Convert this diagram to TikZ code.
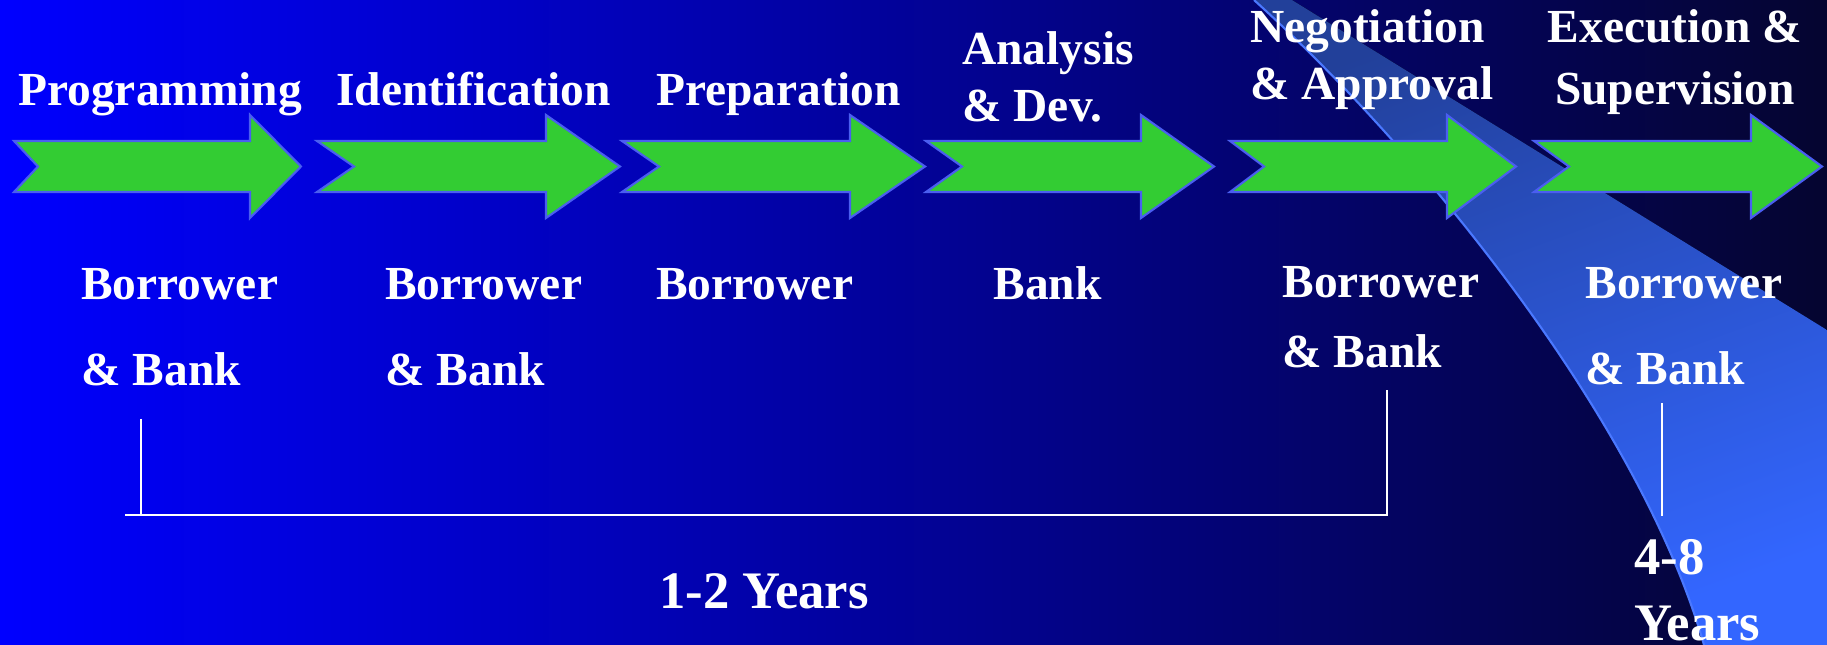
\documentclass[tikz,border=0pt]{standalone}
\usepackage{fontspec}
\setmainfont{Liberation Serif}

\definecolor{bgleft}{HTML}{0000FF}
\definecolor{bgmid}{HTML}{0000CC}
\definecolor{bgright}{HTML}{050530}
\definecolor{swooshtop}{HTML}{22409A}
\definecolor{swooshbot}{HTML}{3366FF}
\definecolor{swooshedge}{HTML}{4A78FF}
\definecolor{arrowgreen}{HTML}{33CC33}
\definecolor{arrowedge}{HTML}{4A5EF0}

\tikzset{
  stagelabel/.style={text=white, font=\bfseries\fontsize{27}{33}\selectfont, inner sep=0pt, anchor=base west, align=left},
  partylabel/.style={stagelabel, font=\bfseries\fontsize{27}{49}\selectfont},
  spanlabel/.style={stagelabel, font=\bfseries\fontsize{30}{37}\selectfont},
  stagearrow/.style={fill=arrowgreen, draw=arrowedge, line width=1.2pt},
  spanline/.style={draw=white, line width=0.9pt},
}

\begin{document}
\begin{tikzpicture}[x=0.02cm, y=-0.02cm]

\useasboundingbox (0,0) rectangle (1827,645);

% background and swoosh
\fill[left color=bgleft, middle color=bgmid, right color=bgright] (0,0) rectangle (1827,645);
\fill[top color=swooshtop, bottom color=swooshbot, shading angle=20]
  (1254,0) .. controls (1420,150) and (1640,420) .. (1704,645) -- (1827,645) -- (1827,330) -- (1292,0) -- cycle;
\draw[swooshedge, line width=1.2pt] (1254,0) .. controls (1420,150) and (1640,420) .. (1704,645);

% stage arrows: tail/notch/head base/tip
\foreach \t/\n/\b/\p in {14/38/250/301, 317/354/546/620, 622/659/850/925, 926/962/1141/1214, 1230/1264/1447/1516, 1534/1569/1751/1822}
  \draw[stagearrow] (\t,141) -- (\b,141) -- (\b,115) -- (\p,166.5) -- (\b,218) -- (\b,192) -- (\t,192) -- (\n,166.5) -- cycle;

% stages (base = last line)
\node[stagelabel] (prog) at (18,106) {Programming};
\node[stagelabel] (ident) at (336,106) {Identification};
\node[stagelabel] (prep) at (656,106) {Preparation};
\node[stagelabel] (anal) at (962,122) {Analysis\\[0pt]\& Dev.};
\node[stagelabel] (nego) at (1250,100) {Negotiation\\[0pt]\& Approval};
\node[stagelabel, anchor=base, align=center] (exec) at (1675,105) {Execution \&\\[2.5pt]Supervision};

% who does it
\node[partylabel] (partyA) at (81,386) {Borrower\\\& Bank};
\node[partylabel] (partyB) at (385,386) {Borrower\\\& Bank};
\node[partylabel] (partyC) at (656,300) {Borrower};
\node[partylabel] (partyD) at (993,300) {Bank};
\node[partylabel] (partyE) at (1282,368) {Borrower\\[-9pt]\& Bank};
\node[partylabel] (partyF) at (1585,385) {Borrower\\\& Bank};

% time spans
\coordinate (brA) at (141,419);
\coordinate (brB) at (141,515);
\coordinate (brC) at (125,515);
\coordinate (brD) at (1387,515);
\coordinate (brE) at (1387,390);
\draw[spanline] (brA) -- (brB);
\draw[spanline] (brC) -- (brD) -- (brE);
\coordinate (exA) at (1662,403);
\coordinate (exB) at (1662,516);
\draw[spanline] (exA) -- (exB);

\node[spanlabel] (span12) at (659,608) {1-2 Years};
\node[spanlabel] (span48) at (1634,640) {4-8\\Years};

\end{tikzpicture}
\end{document}
